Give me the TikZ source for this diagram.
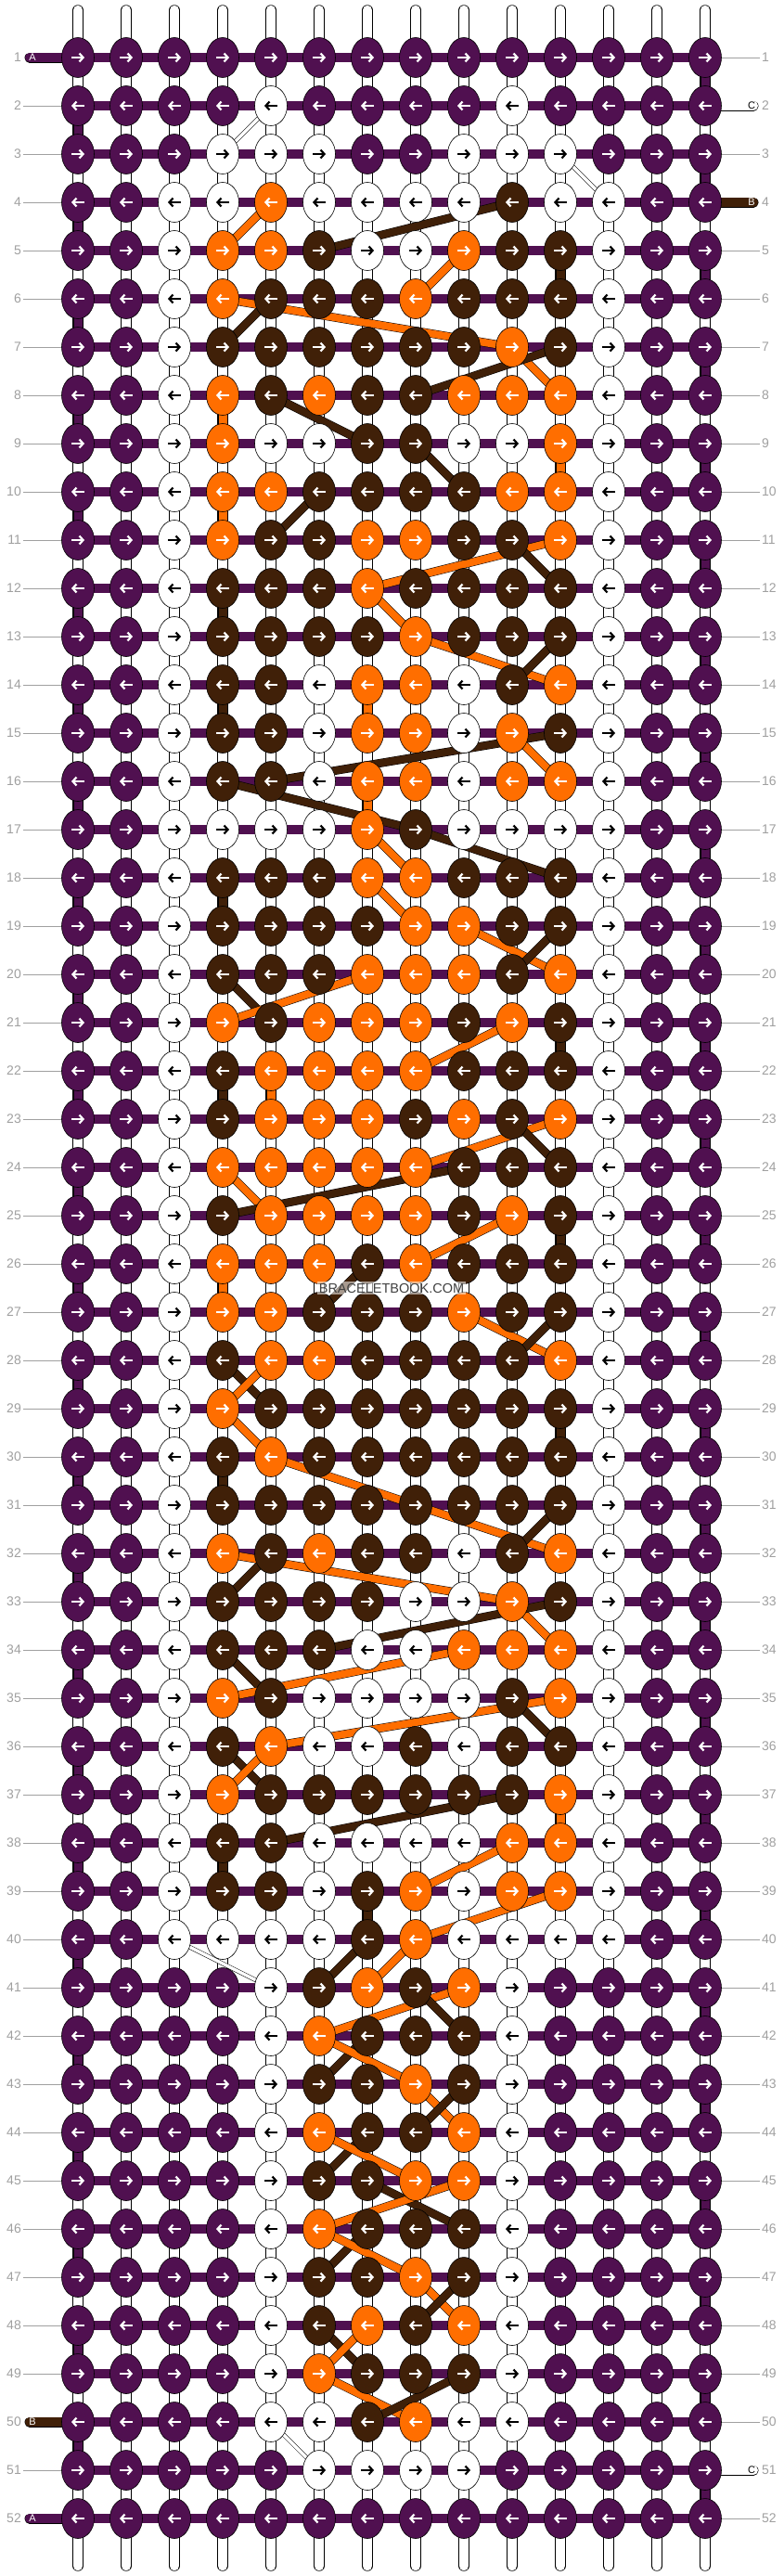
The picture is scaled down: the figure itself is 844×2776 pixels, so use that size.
\documentclass[tikz,border=0pt]{standalone}
\usepackage{fontspec}
\setmainfont{Liberation Sans}
\usepackage{tikz}
\usetikzlibrary{%
        arrows.meta,
        shapes.geometric
    }
\definecolor{plum}{RGB}{80, 16, 80}
\definecolor{bark}{RGB}{64, 32, 8}
\definecolor{tangerine}{RGB}{255, 110, 0}
\definecolor{rowgray}{RGB}{160, 160, 160}
\pgfdeclarelayer{background}
\pgfsetlayers{background,main}
\tikzset{%
    knot/.style={ellipse, draw=black, line width=0.6pt, minimum width=35pt,
        minimum height=43pt, inner sep=0pt},
    knotP/.style={knot, fill=plum},
    knotB/.style={knot, fill=bark},
    knotO/.style={knot, fill=tangerine},
    knotW/.style={knot, fill=white},
    tipP/.style={draw=white},
    tipB/.style={draw=white},
    tipO/.style={draw=white},
    tipW/.style={draw=black},
    knotarrow/.style={line width=2.2pt,
        -{Straight Barb[length=4pt, width=9pt]}},
    basestring/.style={draw=black, line width=0.5pt, double=white,
        double distance=10.5pt, line cap=round},
    rowbar/.style={draw=plum, line width=10pt},
    thread/.style={draw=black, line width=0.5pt, double=#1,
        double distance=9pt},
    strand/.style={draw=black, line width=0.5pt, double=#1,
        double distance=8pt},
    thinstrand/.style={draw=black, line width=0.5pt, double=white,
        double distance=3.5pt},
    stringend/.style={draw=black, line width=0.5pt, double=#1,
        double distance=10pt, line cap=round},
    rownum/.style={text=rowgray, font=\fontsize{14}{14}\selectfont,
        inner sep=2pt},
    rowline/.style={draw=rowgray, line width=0.8pt},
    tabtext/.style={font=\fontsize{11}{11}\selectfont, inner sep=0pt}
}

\begin{document}
\begin{tikzpicture}[x=1pt, y=-1pt]

    \useasboundingbox (0, 0) rectangle (844, 2776);

    \foreach \r/\cols in {%
        1/{P,P,P,P,P,P,P,P,P,P,P,P,P,P},
        2/{P,P,P,P,W,P,P,P,P,W,P,P,P,P},
        3/{P,P,P,W,W,W,P,P,W,W,W,P,P,P},
        4/{P,P,W,W,O,W,W,W,W,B,W,W,P,P},
        5/{P,P,W,O,O,B,W,W,O,B,B,W,P,P},
        6/{P,P,W,O,B,B,B,O,B,B,B,W,P,P},
        7/{P,P,W,B,B,B,B,B,B,O,B,W,P,P},
        8/{P,P,W,O,B,O,B,B,O,O,O,W,P,P},
        9/{P,P,W,O,W,W,B,B,W,W,O,W,P,P},
        10/{P,P,W,O,O,B,B,B,B,O,O,W,P,P},
        11/{P,P,W,O,B,B,O,O,B,B,O,W,P,P},
        12/{P,P,W,B,B,B,O,B,B,B,B,W,P,P},
        13/{P,P,W,B,B,B,B,O,B,B,B,W,P,P},
        14/{P,P,W,B,B,W,O,O,W,B,O,W,P,P},
        15/{P,P,W,B,B,W,O,O,W,O,B,W,P,P},
        16/{P,P,W,B,B,W,O,O,W,O,O,W,P,P},
        17/{P,P,W,W,W,W,O,B,W,W,W,W,P,P},
        18/{P,P,W,B,B,B,O,O,B,B,B,W,P,P},
        19/{P,P,W,B,B,B,B,O,O,B,B,W,P,P},
        20/{P,P,W,B,B,B,O,O,O,B,O,W,P,P},
        21/{P,P,W,O,B,O,O,O,B,O,B,W,P,P},
        22/{P,P,W,B,O,O,O,O,B,B,B,W,P,P},
        23/{P,P,W,B,O,O,O,B,O,B,O,W,P,P},
        24/{P,P,W,O,O,O,O,O,B,B,B,W,P,P},
        25/{P,P,W,B,O,O,O,O,B,O,B,W,P,P},
        26/{P,P,W,O,O,O,B,O,B,B,B,W,P,P},
        27/{P,P,W,O,O,B,B,B,O,B,B,W,P,P},
        28/{P,P,W,B,O,O,B,B,B,B,O,W,P,P},
        29/{P,P,W,O,B,B,B,B,B,B,B,W,P,P},
        30/{P,P,W,B,O,B,B,B,B,B,B,W,P,P},
        31/{P,P,W,B,B,B,B,B,B,B,B,W,P,P},
        32/{P,P,W,O,B,O,B,B,W,B,O,W,P,P},
        33/{P,P,W,B,B,B,B,W,W,O,B,W,P,P},
        34/{P,P,W,B,B,B,W,W,O,O,O,W,P,P},
        35/{P,P,W,O,B,W,W,W,W,B,O,W,P,P},
        36/{P,P,W,B,O,W,W,B,W,B,B,W,P,P},
        37/{P,P,W,O,B,B,B,B,B,B,O,W,P,P},
        38/{P,P,W,B,B,W,W,W,W,O,O,W,P,P},
        39/{P,P,W,B,B,W,B,O,W,O,O,W,P,P},
        40/{P,P,W,W,W,W,B,O,W,W,W,W,P,P},
        41/{P,P,P,P,W,B,O,B,O,W,P,P,P,P},
        42/{P,P,P,P,W,O,B,B,B,W,P,P,P,P},
        43/{P,P,P,P,W,B,B,O,B,W,P,P,P,P},
        44/{P,P,P,P,W,O,B,B,O,W,P,P,P,P},
        45/{P,P,P,P,W,B,B,O,O,W,P,P,P,P},
        46/{P,P,P,P,W,O,B,B,B,W,P,P,P,P},
        47/{P,P,P,P,W,B,B,O,B,W,P,P,P,P},
        48/{P,P,P,P,W,B,O,B,O,W,P,P,P,P},
        49/{P,P,P,P,W,O,B,B,B,W,P,P,P,P},
        50/{P,P,P,P,W,W,B,O,W,W,P,P,P,P},
        51/{P,P,P,P,P,W,W,W,W,P,P,P,P,P},
        52/{P,P,P,P,P,P,P,P,P,P,P,P,P,P}%
    }{%
        \foreach \k [count=\c] in \cols {%
            \node[knot\k] (k-\r-\c) at (32+52*\c, 10+52*\r) {};
            \ifodd\r\relax
                \def\ax{-7}\def\bx{7}%
            \else
                \def\ax{7}\def\bx{-7}%
            \fi
            \draw[knotarrow, tip\k] ([xshift=\ax pt] k-\r-\c.center)
                -- ([xshift=\bx pt] k-\r-\c.center);
        }
    }

    \foreach \r in {1, ..., 52}{%
        \node[rownum, anchor=east] (ll-\r) at (25, 10+52*\r) {\r};
        \node[rownum, anchor=west] (lr-\r) at (819, 10+52*\r) {\r};
    }

    \begin{pgfonlayer}{background}
        \fill[white] (0, 0) rectangle (844, 2776);

        \foreach \c in {1, ..., 14}{%
            \coordinate (top-\c) at (32+52*\c, 11);
            \coordinate (bot-\c) at (32+52*\c, 2765);
            \draw[basestring] (top-\c) -- (bot-\c);
        }

        \foreach \r in {1, ..., 52}{%
            \draw[rowbar] (k-\r-1.center) -- (k-\r-14.center);
        }

        \foreach \r in {1, ..., 51}{%
            \pgfmathtruncatemacro{\rr}{\r+1}
            \ifodd\r\relax\def\cc{14}\else\def\cc{1}\fi
            \draw[thread=plum] (k-\r-\cc.center) -- (k-\rr-\cc.center);
        }

        \foreach \r/\c/\col in {5/11/bark, 8/4/tangerine, 9/11/tangerine,
            10/4/tangerine, 12/4/bark, 14/4/bark, 14/7/tangerine,
            16/7/tangerine, 18/4/bark, 21/11/bark, 22/4/bark,
            22/5/tangerine, 25/11/bark, 26/4/tangerine, 29/11/bark,
            30/4/bark, 37/11/tangerine, 38/4/bark, 39/7/bark}{%
            \pgfmathtruncatemacro{\rr}{\r+1}
            \draw[thread=\col] (k-\r-\c.center) -- (k-\rr-\c.center);
        }

        \foreach \ra/\ca/\rb/\cb in {2/5/3/4, 3/11/4/12, 40/3/41/5,
            50/5/51/6}{%
            \draw[thinstrand] (k-\ra-\ca.center) -- (k-\rb-\cb.center);
        }

        \foreach \ra/\ca/\rb/\cb/\col in {%
            4/5/5/4/tangerine, 4/10/5/6/bark, 5/9/6/8/tangerine,
            6/4/7/10/tangerine, 6/5/7/4/bark, 7/10/8/11/tangerine,
            7/11/8/8/bark, 8/5/9/7/bark, 9/8/10/9/bark, 10/6/11/5/bark,
            11/11/12/7/tangerine, 11/10/12/11/bark, 12/7/13/8/tangerine,
            13/8/14/11/tangerine, 13/11/14/10/bark, 15/11/16/5/bark,
            15/10/16/11/tangerine, 16/4/17/8/bark, 17/7/18/8/tangerine,
            17/8/18/11/bark, 18/7/19/8/tangerine, 19/9/20/11/tangerine,
            19/11/20/10/bark, 20/4/21/5/bark, 20/7/21/4/tangerine,
            21/10/22/8/tangerine, 23/11/24/8/tangerine, 23/10/24/11/bark,
            24/4/25/5/tangerine, 24/9/25/4/bark, 25/10/26/8/tangerine,
            26/7/27/6/bark, 27/9/28/11/tangerine, 27/11/28/10/bark,
            28/4/29/5/bark, 28/5/29/4/tangerine, 29/4/30/5/tangerine,
            30/5/32/11/tangerine, 31/11/32/10/bark, 32/5/33/4/bark,
            32/4/33/10/tangerine, 33/10/34/11/tangerine, 33/11/34/6/bark,
            34/4/35/5/bark, 34/9/35/4/tangerine, 35/11/36/5/tangerine,
            35/10/36/11/bark, 36/4/37/5/bark, 36/5/37/4/tangerine,
            37/10/38/5/bark, 38/10/39/8/tangerine, 39/11/40/8/tangerine,
            40/7/41/6/bark, 40/8/41/7/tangerine, 41/9/42/6/tangerine,
            41/8/42/9/bark, 42/7/43/6/bark, 42/6/43/8/tangerine,
            43/8/44/9/tangerine, 43/9/44/8/bark, 44/7/45/6/bark,
            44/6/45/8/tangerine, 45/7/46/9/bark, 45/9/46/6/tangerine,
            46/7/47/6/bark, 46/6/47/8/tangerine, 47/8/48/9/tangerine,
            47/9/48/8/bark, 48/6/49/7/bark, 48/7/49/6/tangerine,
            49/6/50/8/tangerine, 49/9/50/7/bark}{%
            \draw[strand=\col] (k-\ra-\ca.center) -- (k-\rb-\cb.center);
        }

        \coordinate (tail-1) at (32, 62);
        \coordinate (tail-50) at (32, 2610);
        \coordinate (tail-52) at (32, 2714);
        \coordinate (tail-2) at (812, 114);
        \coordinate (tail-4) at (812, 218);
        \coordinate (tail-51) at (812, 2662);
        \draw[stringend=plum] (tail-1) -- (k-1-1.center);
        \draw[stringend=bark] (tail-50) -- (k-50-1.center);
        \draw[stringend=plum] (tail-52) -- (k-52-1.center);
        \draw[stringend=white] (k-2-14.center) -- (tail-2);
        \draw[stringend=bark] (k-4-14.center) -- (tail-4);
        \draw[stringend=white] (k-51-14.center) -- (tail-51);
    \end{pgfonlayer}

    \foreach \r in {2, ..., 49, 51}{%
        \draw[rowline] (ll-\r) -- (k-\r-1);
    }
    \foreach \r in {1, 3, 5, 6, ..., 50, 52}{%
        \draw[rowline] (k-\r-14) -- (lr-\r);
    }

    \node[tabtext, text=white] (tag-1) at (35, 62) {A};
    \node[tabtext, text=white] (tag-50) at (35, 2610) {B};
    \node[tabtext, text=white] (tag-52) at (35, 2714) {A};
    \node[tabtext, text=black] (tag-2) at (810, 114) {C};
    \node[tabtext, text=white] (tag-4) at (810, 218) {B};
    \node[tabtext, text=black] (tag-51) at (810, 2662) {C};

    \node[font=\fontsize{14.5}{14.5}\selectfont, text=black!75,
        fill=white, fill opacity=0.55, text opacity=1, inner sep=1.5pt]
        (mark) at (422, 1388) {BRACELETBOOK.COM};

\end{tikzpicture}
\end{document}
